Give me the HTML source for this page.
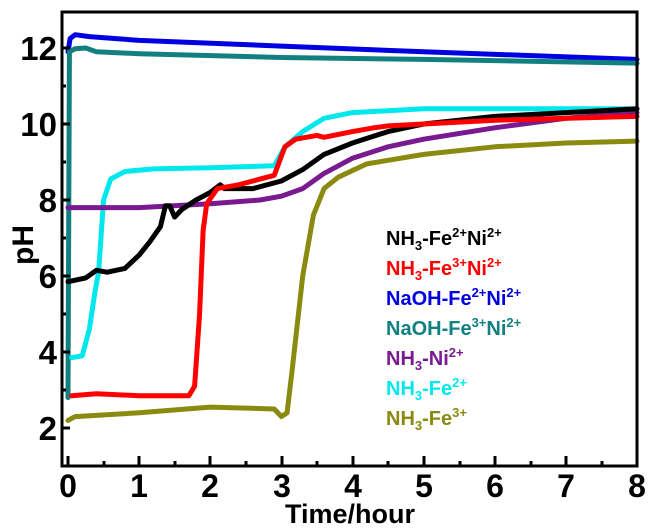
<!DOCTYPE html>
<html><head><meta charset="utf-8"><style>
body{margin:0;background:#fff;width:654px;height:532px;overflow:hidden}
svg{display:block}
text{font-family:"Liberation Sans",Arial,sans-serif;font-weight:bold}
</style></head><body>
<svg width="654" height="532" viewBox="0 0 654 532" xmlns="http://www.w3.org/2000/svg">
<g transform="translate(68,504) scale(71.125,-38)" fill="none" stroke-width="5" stroke-linejoin="round" stroke-linecap="round">
<polyline vector-effect="non-scaling-stroke" stroke="#0000e0" points="0,11.9 0.03,12.25 0.1,12.35 0.3,12.3 1,12.2 3,12.05 5,11.9 8,11.7"/>
<polyline vector-effect="non-scaling-stroke" stroke="#128080" points="0,2.8 0.02,11.9 0.1,11.98 0.25,12 0.4,11.9 1,11.85 3,11.75 5,11.7 8,11.6"/>
<polyline vector-effect="non-scaling-stroke" stroke="#00e8ee" points="0.05,3.85 0.2,3.9 0.3,4.6 0.38,5.6 0.43,6.1 0.5,8 0.6,8.55 0.8,8.75 1.2,8.82 2,8.85 2.9,8.9 3.05,9.4 3.3,9.8 3.6,10.15 4,10.3 5,10.4 8,10.4"/>
<polyline vector-effect="non-scaling-stroke" stroke="#7a1a90" points="0,7.8 1,7.8 2,7.9 2.7,8.0 3,8.1 3.3,8.3 3.6,8.7 4,9.1 4.5,9.4 5,9.6 6,9.9 7,10.15 8,10.3"/>
<polyline vector-effect="non-scaling-stroke" stroke="#000" points="0,5.85 0.25,5.95 0.4,6.15 0.55,6.1 0.8,6.2 1,6.55 1.15,6.9 1.3,7.3 1.37,7.85 1.43,7.85 1.5,7.55 1.6,7.75 1.8,8.0 2.0,8.2 2.14,8.4 2.2,8.3 2.6,8.3 3,8.5 3.3,8.8 3.6,9.2 4,9.5 4.5,9.8 5,10.0 6,10.2 8,10.4"/>
<polyline vector-effect="non-scaling-stroke" stroke="#f00" points="0.05,2.85 0.4,2.9 1,2.85 1.7,2.85 1.78,3.1 1.85,5 1.9,7.2 1.95,7.9 2.1,8.3 2.4,8.4 2.7,8.55 2.9,8.65 3.05,9.4 3.2,9.6 3.5,9.7 3.6,9.65 4,9.8 4.3,9.9 4.5,9.95 5,10.0 6,10.1 8,10.2"/>
<polyline vector-effect="non-scaling-stroke" stroke="#8a8a10" points="0,2.2 0.1,2.3 1,2.4 2,2.55 2.9,2.5 3.0,2.3 3.08,2.4 3.15,3.5 3.3,6 3.45,7.6 3.6,8.3 3.8,8.6 4.2,8.95 5,9.2 6,9.4 7,9.5 8,9.55"/>
</g>
<g stroke="#000" stroke-width="3" fill="none">
<rect x="62" y="12" width="575" height="454"/>
</g>
<g stroke="#000" stroke-width="3">
<line x1="68" y1="466" x2="68" y2="456"/><line x1="139" y1="466" x2="139" y2="456"/><line x1="210" y1="466" x2="210" y2="456"/><line x1="282" y1="466" x2="282" y2="456"/><line x1="353" y1="466" x2="353" y2="456"/><line x1="424" y1="466" x2="424" y2="456"/><line x1="495" y1="466" x2="495" y2="456"/><line x1="566" y1="466" x2="566" y2="456"/>
<line x1="104" y1="466" x2="104" y2="461"/><line x1="175" y1="466" x2="175" y2="461"/><line x1="246" y1="466" x2="246" y2="461"/><line x1="317" y1="466" x2="317" y2="461"/><line x1="388" y1="466" x2="388" y2="461"/><line x1="460" y1="466" x2="460" y2="461"/><line x1="531" y1="466" x2="531" y2="461"/><line x1="602" y1="466" x2="602" y2="461"/>
<line x1="62" y1="428" x2="70" y2="428"/><line x1="62" y1="352" x2="70" y2="352"/><line x1="62" y1="276" x2="70" y2="276"/><line x1="62" y1="200" x2="70" y2="200"/><line x1="62" y1="124" x2="70" y2="124"/><line x1="62" y1="48" x2="70" y2="48"/>
<line x1="62" y1="390" x2="66" y2="390"/><line x1="62" y1="314" x2="66" y2="314"/><line x1="62" y1="238" x2="66" y2="238"/><line x1="62" y1="162" x2="66" y2="162"/><line x1="62" y1="86" x2="66" y2="86"/>
</g>
<g font-size="32" text-anchor="middle">
<text x="68" y="497">0</text><text x="139" y="497">1</text><text x="210" y="497">2</text><text x="282" y="497">3</text><text x="353" y="497">4</text><text x="424" y="497">5</text><text x="495" y="497">6</text><text x="566" y="497">7</text><text x="637" y="497">8</text>
</g>
<g font-size="33" text-anchor="end">
<text x="57" y="440">2</text><text x="57" y="364">4</text><text x="57" y="288">6</text><text x="57" y="212">8</text><text x="57" y="136">10</text><text x="57" y="60">12</text>
</g>
<text x="350" y="523" font-size="27" text-anchor="middle">Time/hour</text>
<text transform="translate(33,245) rotate(-90)" font-size="30" text-anchor="middle">pH</text>
<g font-size="20">
<text x="386" y="245" fill="#000">NH<tspan font-size="13" dy="5">3</tspan><tspan dy="-5">-Fe</tspan><tspan font-size="13" dy="-8">2+</tspan><tspan dy="8">Ni</tspan><tspan font-size="13" dy="-8">2+</tspan></text>
<text x="386" y="275" fill="#f00">NH<tspan font-size="13" dy="5">3</tspan><tspan dy="-5">-Fe</tspan><tspan font-size="13" dy="-8">3+</tspan><tspan dy="8">Ni</tspan><tspan font-size="13" dy="-8">2+</tspan></text>
<text x="386" y="305" fill="#0000e0">NaOH-Fe<tspan font-size="13" dy="-8">2+</tspan><tspan dy="8">Ni</tspan><tspan font-size="13" dy="-8">2+</tspan></text>
<text x="386" y="335" fill="#128080">NaOH-Fe<tspan font-size="13" dy="-8">3+</tspan><tspan dy="8">Ni</tspan><tspan font-size="13" dy="-8">2+</tspan></text>
<text x="386" y="365" fill="#7a1a90">NH<tspan font-size="13" dy="5">3</tspan><tspan dy="-5">-Ni</tspan><tspan font-size="13" dy="-8">2+</tspan></text>
<text x="386" y="395" fill="#00e8ee">NH<tspan font-size="13" dy="5">3</tspan><tspan dy="-5">-Fe</tspan><tspan font-size="13" dy="-8">2+</tspan></text>
<text x="386" y="425" fill="#8a8a10">NH<tspan font-size="13" dy="5">3</tspan><tspan dy="-5">-Fe</tspan><tspan font-size="13" dy="-8">3+</tspan></text>
</g>
</svg>
</body></html>
